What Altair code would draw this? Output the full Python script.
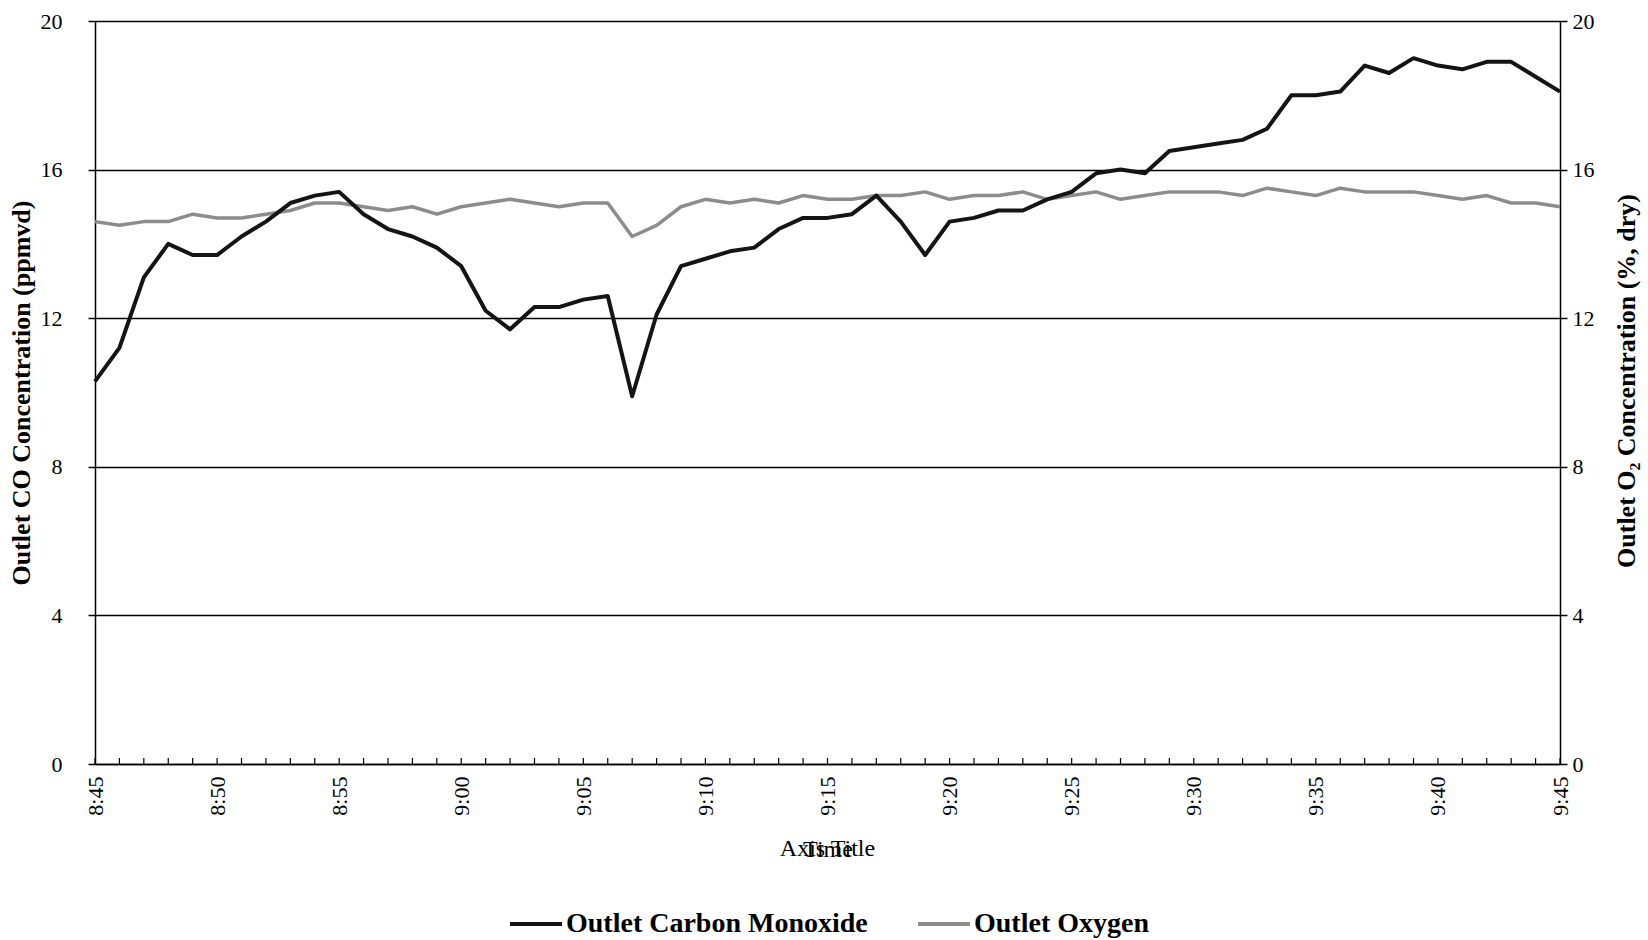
import altair as alt
import pandas as pd

minute = list(range(61))  # minutes after 8:45
tick_labels = ["8:45", "8:50", "8:55", "9:00", "9:05", "9:10", "9:15",
               "9:20", "9:25", "9:30", "9:35", "9:40", "9:45"]
y_ticks = [0, 4, 8, 12, 16, 20]
series_names = ["Outlet Carbon Monoxide", "Outlet Oxygen"]

co = [10.3, 11.2, 13.1, 14.0, 13.7, 13.7, 14.2, 14.6, 15.1, 15.3,
      15.4, 14.8, 14.4, 14.2, 13.9, 13.4, 12.2, 11.7, 12.3, 12.3,
      12.5, 12.6, 9.9, 12.1, 13.4, 13.6, 13.8, 13.9, 14.4, 14.7,
      14.7, 14.8, 15.3, 14.6, 13.7, 14.6, 14.7, 14.9, 14.9, 15.2,
      15.4, 15.9, 16.0, 15.9, 16.5, 16.6, 16.7, 16.8, 17.1, 18.0,
      18.0, 18.1, 18.8, 18.6, 19.0, 18.8, 18.7, 18.9, 18.9, 18.5,
      18.1]
o2 = [14.6, 14.5, 14.6, 14.6, 14.8, 14.7, 14.7, 14.8, 14.9, 15.1,
      15.1, 15.0, 14.9, 15.0, 14.8, 15.0, 15.1, 15.2, 15.1, 15.0,
      15.1, 15.1, 14.2, 14.5, 15.0, 15.2, 15.1, 15.2, 15.1, 15.3,
      15.2, 15.2, 15.3, 15.3, 15.4, 15.2, 15.3, 15.3, 15.4, 15.2,
      15.3, 15.4, 15.2, 15.3, 15.4, 15.4, 15.4, 15.3, 15.5, 15.4,
      15.3, 15.5, 15.4, 15.4, 15.4, 15.3, 15.2, 15.3, 15.1, 15.1,
      15.0]

W, H = 1465, 743
FONT = "Liberation Serif"

df_co = pd.DataFrame({"minute": minute, "value": co, "series": series_names[0]})
df_o2 = pd.DataFrame({"minute": minute, "value": o2, "series": series_names[1]})

label_arr = "[" + ",".join("'%s'" % t for t in tick_labels) + "]"

x_enc = alt.X(
    "minute:Q",
    scale=alt.Scale(domain=[0, 60], nice=False, zero=False),
    axis=alt.Axis(
        values=list(range(0, 61, 5)),
        labelExpr=label_arr + "[round(datum.value/5)]",
        labelAngle=270, labelPadding=12, ticks=False, grid=False,
        domainColor="black", domainWidth=1.5,
        labelFont=FONT, labelFontSize=22, labelColor="black",
        title="Time", titleY=85, titleBaseline="middle",
        titleFont=FONT, titleFontSize=24, titleFontWeight="normal",
        titleColor="black",
    ),
)

color = alt.Color(
    "series:N",
    scale=alt.Scale(domain=series_names, range=["#141414", "#8c8c8c"]),
    legend=alt.Legend(
        orient="none", legendX=413, legendY=875, direction="horizontal",
        title=None, symbolType="stroke", symbolSize=2700, symbolStrokeWidth=4,
        labelFont=FONT, labelFontSize=28, labelFontWeight="bold",
        labelColor="black", columnPadding=42, labelOffset=2, labelLimit=0,
    ),
)

o2_layer = alt.Chart(df_o2).mark_line(strokeWidth=3.5, strokeJoin="round").encode(
    x=x_enc,
    y=alt.Y(
        "value:Q",
        scale=alt.Scale(domain=[0, 20], nice=False),
        axis=alt.Axis(
            orient="right", values=y_ticks, grid=False, tickSize=7,
            tickColor="black", tickWidth=1.5, domainColor="black", domainWidth=1.5,
            labelPadding=5, labelFont=FONT, labelFontSize=22, labelColor="black",
            title="Outlet O\u2082 Concentration (%, dry)", titleX=66, titleY=H / 2 - 12,
            titleAngle=270, titleAlign="center", titleBaseline="middle",
            titleFont=FONT, titleFontSize=26, titleFontWeight="bold", titleColor="black",
        ),
    ),
    color=color,
)

co_layer = alt.Chart(df_co).mark_line(strokeWidth=4, strokeJoin="round").encode(
    x=x_enc,
    y=alt.Y(
        "value:Q",
        scale=alt.Scale(domain=[0, 20], nice=False),
        axis=alt.Axis(
            orient="left", values=y_ticks, grid=True, gridColor="black", gridWidth=1.5,
            gridOpacity=1, tickSize=7, tickColor="black", tickWidth=1.5,
            domainColor="black", domainWidth=1.5,
            labelPadding=26, labelFont=FONT, labelFontSize=22, labelColor="black",
            title="Outlet CO Concentration (ppmvd)", titleX=-74, titleY=H / 2,
            titleAngle=270, titleAlign="center", titleBaseline="middle",
            titleFont=FONT, titleFontSize=26, titleFontWeight="bold", titleColor="black",
        ),
    ),
    color=color,
)

tick_layer = alt.Chart(pd.DataFrame({"minute": minute})).mark_rule(
    color="black", strokeWidth=1.2
).encode(x=x_enc, y=alt.value(H), y2=alt.value(H - 6))

overlap_title = alt.Chart(pd.DataFrame({"t": ["Axis Title"]})).mark_text(
    font=FONT, fontSize=24, color="black", baseline="middle", align="center"
).encode(text="t:N", x=alt.value(W / 2), y=alt.value(H + 85))

chart = alt.layer(o2_layer, co_layer, tick_layer, overlap_title).resolve_scale(
    y="independent"
).properties(
    width=W, height=H,
    autosize=alt.AutoSizeParams(type="none"),
    padding={"left": 95, "top": 21, "right": 88, "bottom": 176},
    background="white",
).configure_view(stroke=None)

chart.save("out.html", embed_options={"renderer": "svg", "actions": False})
